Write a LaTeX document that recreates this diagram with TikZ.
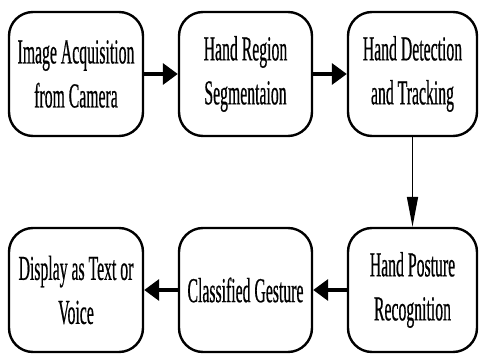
\documentclass[tikz,border=0pt]{standalone}
\usepackage{fontspec}
\newfontfamily\boxfont[FakeStretch=0.45,FakeBold=0.5]{Liberation Serif}
\usetikzlibrary{arrows.meta}
\begin{document}
\begin{tikzpicture}[x=1pt,y=-1pt,
  stage/.style={draw=black, line width=2.4pt, rounded corners=24pt,
    minimum height=124pt, inner sep=0pt, align=center,
    font=\boxfont\fontsize{35}{44}\selectfont},
  flow/.style={line width=3.5pt, -{Triangle[length=15pt,width=21pt]}},
  down/.style={line width=1.6pt, -{Triangle[length=30pt,width=11pt]}}]
\useasboundingbox (0,0) rectangle (480,355);
\node[stage, minimum width=134pt] (n1) at (76,74) {Image Acquisition\\from Camera};
\node[stage, minimum width=133pt] (n2) at (245.5,74) {Hand Region\\Segmentaion};
\node[stage, minimum width=129pt] (n3) at (412.5,74) {Hand Detection\\and Tracking};
\node[stage, minimum width=129pt] (n4) at (412.5,290) {Hand Posture\\Recognition};
\node[stage, minimum width=133pt] (n5) at (245.5,290) {Classified Gesture};
\node[stage, minimum width=134pt] (n6) at (76,290) {Display as Text or\\Voice};
\draw[flow] (n1) -- (n2);
\draw[flow] (n2) -- (n3);
\draw[down] (n3) -- (n4);
\draw[flow] (n4) -- (n5);
\draw[flow] (n5) -- (n6);
\end{tikzpicture}
\end{document}
